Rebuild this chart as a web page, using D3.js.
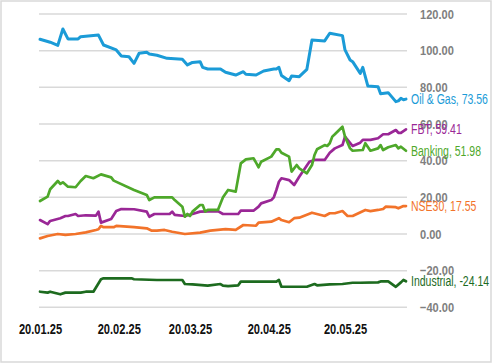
<!DOCTYPE html>
<html>
<head>
<meta charset="utf-8">
<script src="https://cdn.jsdelivr.net/npm/d3@7"></script>
<style>
  body { margin: 0; background: #fff; }
  svg text { font-family: "Liberation Sans", Arial, sans-serif; }
</style>
</head>
<body>
<div id="main"></div>
<script>
// values
var oilGas = [
    ["2025-01-20",106.2],["2025-01-24",104.6],["2025-01-27",102.9],["2025-01-29",111.8],["2025-01-31",106.4],
    ["2025-02-04",106.4],["2025-02-05",107.6],["2025-02-12",108.5],["2025-02-14",103.1],["2025-02-19",100.4],
    ["2025-02-21",97.1],["2025-02-24",96.7],["2025-02-26",93.1],["2025-02-28",98.6],["2025-03-03",99.1],
    ["2025-03-04",98.2],["2025-03-07",97.5],["2025-03-11",95.8],["2025-03-17",95.3],["2025-03-19",92.2],
    ["2025-03-21",93.6],["2025-03-24",94.0],["2025-03-25",90.9],["2025-03-27",90.0],["2025-04-01",90.0],
    ["2025-04-03",88.2],["2025-04-07",86.7],["2025-04-10",88.5],["2025-04-11",87.1],["2025-04-15",86.7],
    ["2025-04-18",88.9],["2025-04-22",90.0],["2025-04-23",90.0],["2025-04-24",90.9],["2025-04-25",86.5],
    ["2025-04-28",83.6],["2025-04-29",86.2],["2025-05-02",85.8],["2025-05-05",89.8],["2025-05-07",105.8],
    ["2025-05-12",105.3],["2025-05-14",109.5],["2025-05-19",108.2],["2025-05-20",100.4],["2025-05-22",94.9],
    ["2025-05-23",94.0],["2025-05-26",87.6],["2025-05-27",90.9],["2025-05-29",80.7],["2025-06-02",80.3],
    ["2025-06-03",76.5],["2025-06-06",77.1],["2025-06-09",72.2],["2025-06-10",72.6],["2025-06-11",74.0],
    ["2025-06-12",73.2],["2025-06-13",73.56]
];

var fbt = [
    ["2025-01-20",7.6],["2025-01-23",5.4],["2025-01-24",7.1],["2025-01-28",8.6],["2025-01-30",9.8],
    ["2025-01-31",9.8],["2025-02-03",10.9],["2025-02-04",9.8],["2025-02-07",10.2],["2025-02-11",10.0],
    ["2025-02-12",12.2],["2025-02-13",6.2],["2025-02-17",8.2],["2025-02-19",12.5],["2025-02-21",13.6],
    ["2025-02-26",13.5],["2025-03-03",12.2],["2025-03-04",9.4],["2025-03-06",10.9],["2025-03-12",10.9],
    ["2025-03-13",12.2],["2025-03-14",10.4],["2025-03-18",9.8],["2025-03-21",10.9],["2025-03-24",12.2],
    ["2025-03-31",12.5],["2025-04-02",10.9],["2025-04-08",10.9],["2025-04-09",12.7],["2025-04-14",12.7],
    ["2025-04-16",14.9],["2025-04-17",16.7],["2025-04-21",18.5],["2025-04-22",20.0],["2025-04-23",24.0],
    ["2025-04-24",28.5],["2025-04-25",30.4],["2025-04-28",29.4],["2025-04-30",26.7],["2025-05-02",31.2],
    ["2025-05-06",39.4],["2025-05-08",40.4],["2025-05-12",40.4],["2025-05-14",44.3],["2025-05-16",46.7],
    ["2025-05-19",48.5],["2025-05-20",53.1],["2025-05-23",48.0],["2025-05-26",49.8],["2025-05-27",51.3],
    ["2025-05-30",51.3],["2025-06-02",52.2],["2025-06-04",54.4],["2025-06-06",54.4],["2025-06-09",56.7],
    ["2025-06-10",55.2],["2025-06-11",55.2],["2025-06-13",57.1]
];

var banking = [
    ["2025-01-20",18.0],["2025-01-23",20.4],["2025-01-24",24.4],["2025-01-27",28.9],["2025-01-28",27.3],
    ["2025-01-29",28.2],["2025-01-31",25.8],["2025-02-03",25.5],["2025-02-05",28.9],["2025-02-07",31.6],
    ["2025-02-10",30.4],["2025-02-13",32.5],["2025-02-17",30.9],["2025-02-18",29.1],["2025-02-26",24.0],
    ["2025-03-03",21.3],["2025-03-04",18.5],["2025-03-06",20.0],["2025-03-13",20.0],["2025-03-14",18.5],
    ["2025-03-17",14.9],["2025-03-18",9.4],["2025-03-19",10.9],["2025-03-20",9.8],["2025-03-21",12.2],
    ["2025-03-24",15.8],["2025-03-25",15.8],["2025-03-26",12.2],["2025-03-27",13.1],["2025-03-31",13.1],
    ["2025-04-02",20.0],["2025-04-04",24.0],["2025-04-07",23.1],["2025-04-09",38.5],["2025-04-11",40.7],
    ["2025-04-14",41.3],["2025-04-15",38.9],["2025-04-16",36.4],["2025-04-17",39.4],["2025-04-21",42.2],
    ["2025-04-23",46.2],["2025-04-24",46.2],["2025-04-25",44.3],["2025-04-28",42.2],["2025-04-29",34.0],
    ["2025-05-01",37.6],["2025-05-02",35.8],["2025-05-05",33.1],["2025-05-07",37.6],["2025-05-08",43.1],
    ["2025-05-09",46.2],["2025-05-12",48.5],["2025-05-13",48.0],["2025-05-14",49.5],["2025-05-15",53.1],
    ["2025-05-16",54.4],["2025-05-19",58.5],["2025-05-20",53.1],["2025-05-22",46.7],["2025-05-23",45.4],
    ["2025-05-27",45.8],["2025-05-28",49.5],["2025-05-30",45.4],["2025-06-02",46.7],["2025-06-03",48.5],
    ["2025-06-04",45.8],["2025-06-06",47.3],["2025-06-09",48.5],["2025-06-10",46.7],["2025-06-11",47.6],
    ["2025-06-13",45.4]
];

var nse30 = [
    ["2025-01-20",-2.4],["2025-01-23",-1.1],["2025-01-27",0.0],["2025-01-30",-0.5],["2025-02-03",0.0],
    ["2025-02-07",0.9],["2025-02-11",2.2],["2025-02-12",2.6],["2025-02-13",4.4],["2025-02-14",3.7],
    ["2025-02-18",3.7],["2025-02-19",4.4],["2025-02-26",3.7],["2025-03-03",3.1],["2025-03-05",1.8],
    ["2025-03-07",1.8],["2025-03-10",2.2],["2025-03-13",1.2],["2025-03-18",0.0],["2025-03-24",0.7],
    ["2025-03-28",1.8],["2025-04-03",2.6],["2025-04-07",2.2],["2025-04-10",4.9],["2025-04-15",4.5],
    ["2025-04-16",6.2],["2025-04-21",6.7],["2025-04-24",8.6],["2025-04-25",7.6],["2025-04-28",6.4],
    ["2025-04-30",8.6],["2025-05-02",8.9],["2025-05-07",11.6],["2025-05-12",9.8],["2025-05-14",11.3],
    ["2025-05-16",11.3],["2025-05-19",12.5],["2025-05-21",9.8],["2025-05-23",9.8],["2025-05-28",13.1],
    ["2025-05-30",12.5],["2025-06-02",13.1],["2025-06-04",13.6],["2025-06-05",14.9],["2025-06-09",14.6],
    ["2025-06-10",14.0],["2025-06-12",15.2],["2025-06-13",15.2]
];

var industrial = [
    ["2025-01-20",-31.5],["2025-01-23",-32.0],["2025-01-24",-31.5],["2025-01-28",-32.9],["2025-01-30",-32.0],
    ["2025-02-05",-32.0],["2025-02-07",-31.5],["2025-02-10",-31.5],["2025-02-13",-24.7],["2025-02-14",-24.2],
    ["2025-02-25",-24.2],["2025-02-26",-24.7],["2025-03-07",-25.1],["2025-03-17",-25.1],["2025-03-18",-27.3],
    ["2025-03-21",-27.5],["2025-03-27",-28.2],["2025-04-01",-27.3],["2025-04-02",-28.2],["2025-04-04",-28.4],
    ["2025-04-08",-28.0],["2025-04-09",-26.0],["2025-04-14",-26.0],["2025-04-23",-26.0],["2025-04-24",-25.1],
    ["2025-04-25",-28.8],["2025-04-28",-28.8],["2025-05-05",-28.8],["2025-05-08",-27.3],["2025-05-09",-28.0],
    ["2025-05-14",-27.5],["2025-05-19",-27.3],["2025-05-23",-26.6],["2025-05-26",-26.6],["2025-06-02",-26.4],
    ["2025-06-03",-25.9],["2025-06-06",-25.9],["2025-06-09",-28.8],["2025-06-11",-26.4],["2025-06-12",-25.1],
    ["2025-06-13",-25.8]
];

var seriesNames = ["Oil & Gas", "NSE30", "FBT", "Banking", "Industrial"];
var seriesLabels = ["Oil & Gas, 73.56", "NSE30, 17.55", "FBT, 59.41", "Banking, 51.98", "Industrial, -24.14"];
var seriesColors = ["#1b9bd7", "#f2732a", "#9a2796", "#4ea82a", "#1d6b1f"];
var xTickDates = ["2025-01-20", "2025-02-20", "2025-03-20", "2025-04-20", "2025-05-20"];
var yTicks = [-40, -20, 0, 20, 40, 60, 80, 100, 120];

var W = 493, H = 363;
var parse = d3.timeParse("%Y-%m-%d");

var svg = d3.select("#main").append("svg")
    .attr("width", W)
    .attr("height", H);

// outer frame
svg.append("rect")
    .attr("x", 1).attr("y", 1)
    .attr("width", 490).attr("height", 361)
    .attr("fill", "#fff")
    .attr("stroke", "#d9d9d9")
    .attr("stroke-width", 1.5);

var x = d3.scaleTime()
    .domain([parse("2025-01-20"), parse("2025-06-13")])
    .range([40, 406]);

var y = d3.scaleLinear()
    .domain([-40, 120])
    .range([307.3, 14]);

// gridlines
svg.append("g").selectAll("line")
    .data(yTicks)
    .enter().append("line")
    .attr("x1", 39).attr("x2", 407)
    .attr("y1", function(d) { return y(d); })
    .attr("y2", function(d) { return y(d); })
    .attr("stroke", "#d9d9d9")
    .attr("stroke-width", 1.5);

// y axis labels on the right
var yAxis = d3.axisRight(y)
    .tickValues(yTicks)
    .tickSize(0)
    .tickPadding(0)
    .tickFormat(d3.format(".2f"));

var gy = svg.append("g")
    .attr("transform", "translate(420,0)")
    .call(yAxis);
gy.select(".domain").remove();
gy.selectAll("text")
    .attr("transform", "scale(0.82,1)")
    .attr("fill", "#808080")
    .style("font-size", "13.5px")
    .style("font-weight", "bold");

// x axis labels
var xAxis = d3.axisBottom(x)
    .tickValues(xTickDates.map(parse))
    .tickSize(0)
    .tickPadding(0)
    .tickFormat(d3.timeFormat("%d.%m.%y"));

var gx = svg.append("g")
    .attr("transform", "translate(0,323)")
    .call(xAxis);
gx.select(".domain").remove();
gx.selectAll("text")
    .attr("transform", "scale(0.74,1)")
    .attr("fill", "#111")
    .style("font-size", "15px")
    .style("font-weight", "bold");

var line = d3.line()
    .x(function(d) { return x(parse(d[0])); })
    .y(function(d) { return y(d[1]); })
    .curve(d3.curveLinear);

var allSeries = [oilGas, nse30, fbt, banking, industrial];

svg.append("g").selectAll("path")
    .data(allSeries)
    .enter().append("path")
    .attr("d", line)
    .attr("fill", "none")
    .attr("stroke", function(d, i) { return seriesColors[i]; })
    .attr("stroke-width", function(d, i) { return i === 0 ? 3 : 2.7; })
    .attr("stroke-linejoin", "round")
    .attr("stroke-linecap", "round");

// end labels, nudged apart where they collide
var labels = allSeries.map(function(s, i) {
    var last = s[s.length - 1];
    return { i: i, y: y(last[1]) };
});
var sorted = labels.slice().sort(function(a, b) { return a.y - b.y; });
for (var k = 1; k < sorted.length; k++) {
    var gap = sorted[k].y - sorted[k - 1].y;
    if (gap < 12) {
        var shift = (12 - gap) / 2;
        sorted[k - 1].y -= shift;
        sorted[k].y += shift;
    }
}

var labelScale = 0.75;
var labelG = svg.append("g").selectAll("g")
    .data(labels)
    .enter().append("g");

labelG.append("text")
    .attr("dy", "0.35em")
    .attr("fill", function(d) { return seriesColors[d.i]; })
    .style("font-size", "14px")
    .text(function(d) { return seriesLabels[d.i]; });

labelG.attr("transform", function(d) {
    var w = this.querySelector("text").getComputedTextLength() * labelScale;
    var lx = Math.min(411, 490 - w);
    return "translate(" + lx + "," + d.y + ") scale(" + labelScale + ",1)";
});
</script>
</body>
</html>
